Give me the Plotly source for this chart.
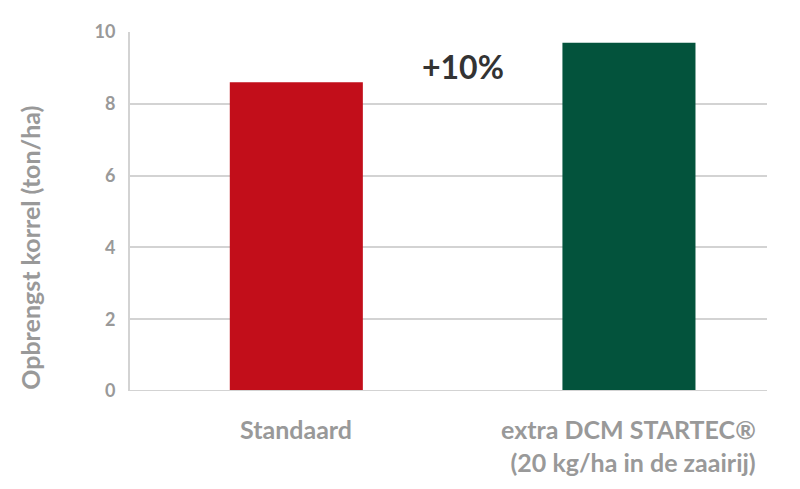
import plotly.graph_objects as go

categories = ["Standaard", "extra DCM STARTEC®<br>(20 kg/ha in de zaairij)"]
values = [8.6, 9.7]
colors = ["#C20E1A", "#03533C"]
y_ticks = [0, 2, 4, 6, 8, 10]
y_title = "Opbrengst korrel (ton/ha)"
gain_label = "+10%"

FONT = "Lato"
GRAY = "#999999"

x_pos = list(range(len(categories)))

fig = go.Figure()
fig.add_trace(go.Bar(
    x=x_pos, y=values, marker=dict(color=colors, line=dict(width=0)),
    width=0.4, hoverinfo="skip",
))

# page has an 8px body margin: plot area spans x 130..767, y 30..391 on the page
fig.update_layout(
    width=800, height=489,
    margin=dict(l=122, r=41, t=22, b=106),
    paper_bgcolor="white", plot_bgcolor="white",
    showlegend=False,
    font=dict(family=FONT, color=GRAY),
    xaxis=dict(range=[-0.5, 1.415], showticklabels=False, showgrid=False,
               zeroline=False, showline=False, fixedrange=True),
    yaxis=dict(range=[0, 10], tickvals=y_ticks, showgrid=True,
               gridcolor="#D3D3D3", gridwidth=2, zeroline=False,
               showline=True, linecolor="#D3D3D3", linewidth=2,
               tickfont=dict(family=FONT, size=18, color=GRAY, weight="bold"),
               ticks="", ticklabelstandoff=9),
)

# baseline
fig.add_shape(type="line", xref="paper", yref="y", x0=0, x1=1, y0=0, y1=0,
              line=dict(color="#D3D3D3", width=2))

# category labels
for xp, cat in zip(x_pos, categories):
    fig.add_annotation(x=xp, xref="x", y=0, yref="paper", yshift=-21,
                       yanchor="top", xanchor="center", align="right",
                       text=cat, showarrow=False,
                       font=dict(family=FONT, size=25, color=GRAY, weight="bold"))

# y title
fig.add_annotation(xref="paper", yref="paper", x=(30 - 130) / 637, y=(391 - 247) / 361,
                   text=y_title, textangle=-90, showarrow=False,
                   xanchor="center", yanchor="middle",
                   font=dict(family=FONT, size=25, color=GRAY, weight="bold"))

# gain label
fig.add_annotation(xref="x", yref="y", x=0.5, y=9.05, text=gain_label,
                   showarrow=False, xanchor="center", yanchor="middle",
                   font=dict(family=FONT, size=32, color="#333333", weight="bold"))

fig.write_html("out.html")
